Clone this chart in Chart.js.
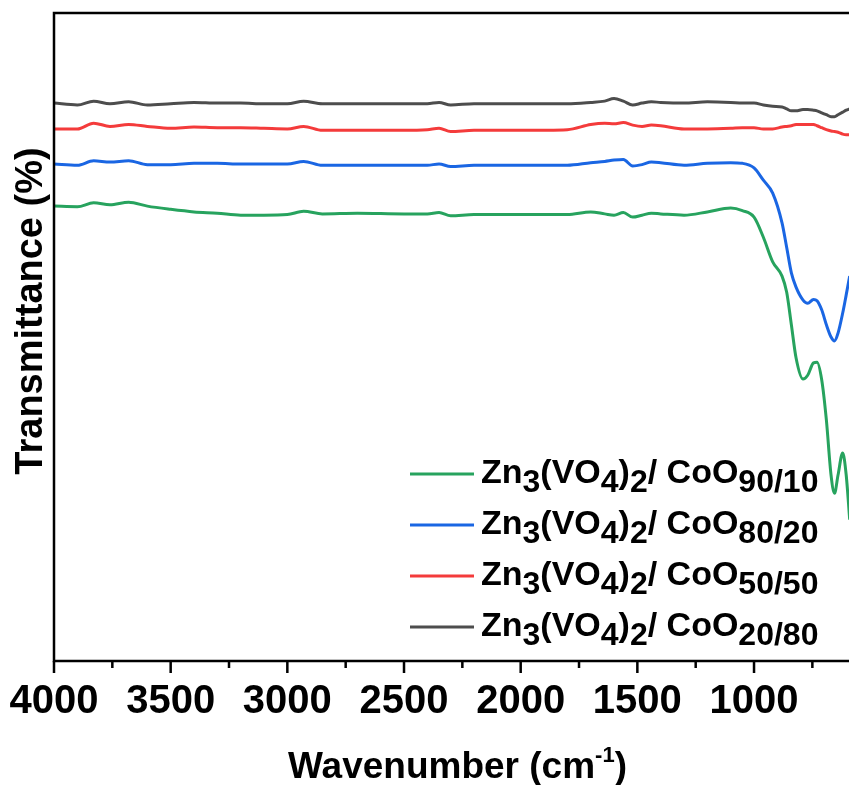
<!DOCTYPE html>
<html>
<head>
<meta charset="utf-8">
<script src="https://cdn.jsdelivr.net/npm/chart.js@4.4.1/dist/chart.umd.min.js"></script>
<style>
  html, body { margin: 0; padding: 0; background: #fff; }
  #wrap { width: 849px; height: 785px; }
</style>
</head>
<body>
<div id="wrap"><canvas id="ftir" width="849" height="785"></canvas></div>
<script>
'use strict';

// DATA
// ====
var wavenumbers = [4000, 3900, 3830, 3760, 3680, 3600, 3500, 3400, 3300, 3200,
  3100, 3000, 2930, 2850, 2700, 2500, 2400, 2350, 2300, 2200,
  2000, 1800, 1700, 1640, 1600, 1560, 1520, 1480, 1440, 1400,
  1300, 1200, 1100, 1050, 1000, 960, 920, 880, 860, 840,
  820, 790, 770, 745, 730, 710, 690, 670, 655, 640,
  620, 605, 590];

var t90_10 = [70.2, 70.1, 70.7, 70.4, 70.8, 70.2, 69.7, 69.3, 69.1, 68.8,
  68.8, 68.9, 69.4, 69.0, 69.1, 69.0, 69.0, 69.2, 68.7, 68.9,
  68.9, 68.9, 69.3, 69.0, 68.8, 69.2, 68.5, 68.8, 69.1, 69.0,
  68.8, 69.3, 69.9, 69.5, 68.5, 65.4, 61.6, 59.4, 56.9, 51.9,
  46.8, 43.5, 44.1, 46.0, 46.1, 43.4, 37.2, 28.7, 25.9, 28.7,
  32.1, 28.7, 21.8];

var t80_20 = [76.7, 76.5, 77.2, 77.0, 77.2, 76.6, 76.6, 76.8, 76.8, 76.7,
  76.7, 76.7, 77.1, 76.5, 76.5, 76.5, 76.5, 76.7, 76.3, 76.5,
  76.5, 76.5, 76.9, 77.1, 77.3, 77.4, 76.4, 76.6, 77.0, 76.9,
  76.5, 76.8, 76.9, 76.8, 76.1, 74.2, 72.2, 67.6, 63.8, 59.9,
  57.7, 55.7, 55.2, 55.8, 55.6, 54.2, 51.9, 50.0, 49.4, 50.6,
  53.7, 56.5, 59.4];

var t50_50 = [82.1, 82.1, 83.0, 82.5, 82.8, 82.5, 82.2, 82.4, 82.3, 82.3,
  82.2, 82.1, 82.5, 81.9, 81.9, 81.9, 82.0, 82.2, 81.7, 81.9,
  81.9, 82.0, 82.8, 83.0, 82.9, 83.1, 82.7, 82.5, 82.7, 82.6,
  82.1, 82.1, 82.2, 82.3, 82.3, 82.1, 82.1, 82.4, 82.5, 82.6,
  82.8, 82.8, 82.8, 82.8, 82.6, 82.3, 82.0, 81.8, 81.7, 81.6,
  81.3, 81.2, 81.2];

var t20_80 = [86.1, 85.8, 86.4, 86.0, 86.3, 85.8, 86.0, 86.2, 86.1, 86.1,
  86.0, 86.0, 86.4, 86.0, 86.0, 86.0, 86.0, 86.2, 85.8, 86.0,
  86.0, 86.0, 86.2, 86.4, 86.8, 86.4, 85.8, 86.1, 86.3, 86.2,
  86.1, 86.3, 86.2, 86.1, 86.1, 85.8, 85.6, 85.5, 85.2, 84.9,
  84.9, 85.1, 85.1, 85.0, 84.9, 84.6, 84.3, 84.0, 84.0, 84.3,
  84.7, 85.0, 85.2];

var ratios = ['90/10', '80/20', '50/50', '20/80'];
var majorTicks = [4000, 3500, 3000, 2500, 2000, 1500, 1000];
var minorTicks = [3750, 3250, 2750, 2250, 1750, 1250, 750];

// STYLE
// =====
var FONT = '"Liberation Sans", Arial, sans-serif';
var NARROW = '"Liberation Sans Narrow", "Arial Narrow", "Liberation Sans", sans-serif';
var colors = ['#27a35e', '#1a66e3', '#f43b3b', '#4d4d4d'];
var seriesValues = [t90_10, t80_20, t50_50, t20_80];

var toPoints = function (vals) {
    return wavenumbers.map(function (w, i) { return { x: w, y: vals[i] }; });
};

// draws the frame, ticks, axis titles and the legend with sub/superscripts
var decor = {
    id: 'decor',
    afterDraw: function (chart) {
        var ctx = chart.ctx;
        var a = chart.chartArea;
        var xs = chart.scales.x;
        ctx.save();
        ctx.strokeStyle = '#000';
        ctx.lineWidth = 2.5;
        ctx.lineCap = 'square';
        ctx.beginPath();
        ctx.moveTo(a.left, a.top);
        ctx.lineTo(a.right + 2, a.top);
        ctx.moveTo(a.left, a.top);
        ctx.lineTo(a.left, a.bottom);
        ctx.lineTo(a.right + 2, a.bottom);
        ctx.stroke();

        ctx.lineCap = 'butt';
        ctx.beginPath();
        majorTicks.forEach(function (v) {
            var px = xs.getPixelForValue(v);
            ctx.moveTo(px, a.bottom);
            ctx.lineTo(px, a.bottom + 12);
        });
        minorTicks.forEach(function (v) {
            var px = xs.getPixelForValue(v);
            ctx.moveTo(px, a.bottom);
            ctx.lineTo(px, a.bottom + 7);
        });
        ctx.stroke();

        ctx.fillStyle = '#000';
        ctx.textBaseline = 'alphabetic';

        // x title with superscript
        var big = 'bold 37px ' + FONT;
        var sup = 'bold 22px ' + FONT;
        ctx.font = big;
        var w1 = ctx.measureText('Wavenumber (cm').width;
        var w3 = ctx.measureText(')').width;
        ctx.font = sup;
        var w2 = ctx.measureText('-1').width;
        var xt = (a.left + a.right) / 2 - (w1 + w2 + w3) / 2 + 6;
        var yt = 778;
        ctx.font = big;
        ctx.fillText('Wavenumber (cm', xt, yt);
        ctx.font = sup;
        ctx.fillText('-1', xt + w1, yt - 16);
        ctx.font = big;
        ctx.fillText(')', xt + w1 + w2, yt);

        // y title
        ctx.save();
        ctx.translate(42, 311);
        ctx.rotate(-Math.PI / 2);
        ctx.font = 'bold 38px ' + FONT;
        ctx.textAlign = 'center';
        ctx.fillText('Transmittance (%)', 0, 0);
        ctx.restore();

        // legend
        var rowY = [474, 525, 576, 627];
        ratios.forEach(function (r, i) {
            var y = rowY[i];
            ctx.strokeStyle = colors[i];
            ctx.lineWidth = 3;
            ctx.beginPath();
            ctx.moveTo(410, y);
            ctx.lineTo(474, y);
            ctx.stroke();
            var parts = [['Zn', 0], ['3', 1], ['(VO', 0], ['4', 1], [')', 0], ['2', 1], ['/ CoO', 0], [r, 1]];
            var x = 481;
            var base = y + 9;
            parts.forEach(function (p) {
                ctx.font = p[1] ? 'bold 32px ' + FONT : 'bold 34px ' + FONT;
                ctx.fillText(p[0], x, p[1] ? base + 9 : base);
                x += ctx.measureText(p[0]).width;
            });
        });
        ctx.restore();
    }
};

var init = function () {
    var ctx = document.getElementById('ftir');
    var datasets = seriesValues.map(function (vals, i) {
        return {
            label: ratios[i],
            data: toPoints(vals),
            borderColor: colors[i],
            borderWidth: 3,
            pointRadius: 0,
            fill: false,
            cubicInterpolationMode: 'monotone'
        };
    });
    new Chart(ctx, {
        type: 'line',
        data: { datasets: datasets },
        plugins: [decor],
        options: {
            responsive: false,
            animation: false,
            events: [],
            layout: { padding: { left: 54, top: 13, right: 0, bottom: 0 } },
            plugins: {
                legend: { display: false },
                tooltip: { enabled: false }
            },
            scales: {
                x: {
                    type: 'linear',
                    reverse: true,
                    min: 593,
                    max: 4000,
                    afterBuildTicks: function (s) {
                        s.ticks = majorTicks.map(function (v) { return { value: v }; });
                    },
                    afterFit: function (s) { s.height = 124; },
                    grid: { display: false },
                    border: { display: false },
                    ticks: {
                        autoSkip: false,
                        maxRotation: 0,
                        padding: 9,
                        color: '#000',
                        font: { family: NARROW, size: 40, weight: 'bold' },
                        callback: function (v) { return String(v); }
                    }
                },
                y: {
                    display: false,
                    min: 0,
                    max: 100
                }
            }
        }
    });
};

init();
</script>
</body>
</html>
